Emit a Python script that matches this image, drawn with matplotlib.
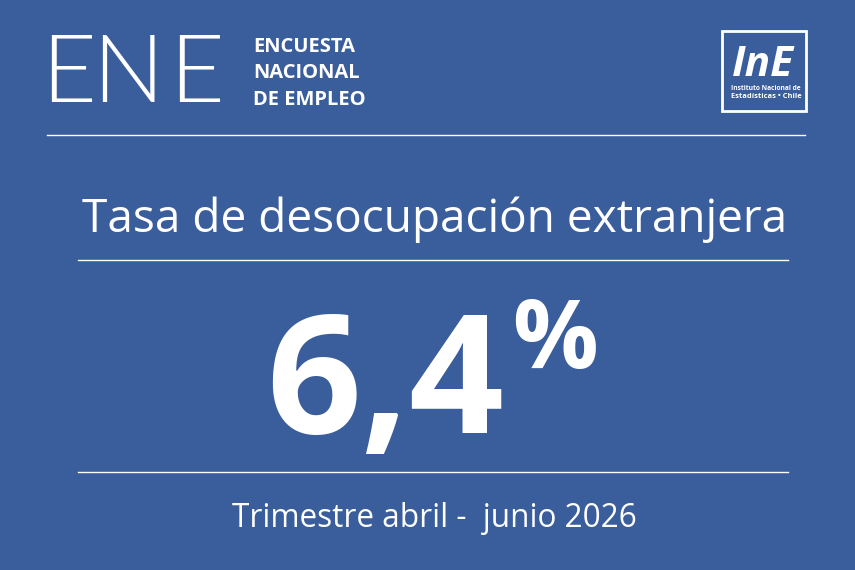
import matplotlib
matplotlib.use("Agg")
import matplotlib.pyplot as plt

# ---- data ----
indicator_title = "Tasa de desocupación extranjera"
rate_value = 6.4
rate_unit = "%"
period_label = "Trimestre abril -  junio 2026"
survey_acronym = ["E", "N", "E"]
survey_name = ["ENCUESTA", "NACIONAL", "DE EMPLEO"]
institute_mark = "InE"
institute_lines = ["Instituto Nacional de", "Estadísticas • Chile"]

BG = "#3A5D9C"
W, H = 855, 570

fig = plt.figure(figsize=(W / 100, H / 100), dpi=100)
fig.patch.set_facecolor(BG)
ax = fig.add_axes([0, 0, 1, 1])
ax.set_xlim(0, W)
ax.set_ylim(H, 0)
ax.set_facecolor(BG)
ax.axis("off")

renderer = fig.canvas.get_renderer()


def fit(t, width):
    """scale fontsize so that rendered text width matches width (px)"""
    for _ in range(3):
        bb = t.get_window_extent(renderer=renderer)
        t.set_fontsize(t.get_fontsize() * width / bb.width)


# ---- header: ENE thin letters ----
for letter, x0 in zip(survey_acronym, [41, 92, 169]):
    ax.text(x0, 102, letter, fontsize=68, color="white", family="Lato",
            fontweight=300, va="baseline", ha="left")

# ---- header: bold words ----
hdr = []
for line, yb in zip(survey_name, [52, 78, 105]):
    hdr.append(ax.text(253, yb, line, fontsize=15, color="white", family="Open Sans",
                       fontweight="bold", va="baseline", ha="left"))
fit(hdr[0], 102)
for t in hdr[1:]:
    t.set_fontsize(hdr[0].get_fontsize())

# ---- logo ----
ax.add_patch(plt.Rectangle((721.5, 30.5), 84, 80, fill=False, ec="white", lw=2))
t = ax.text(763, 76, institute_mark, fontsize=25, color="white", family="Open Sans",
            fontweight="bold", style="italic", va="baseline", ha="center")
fit(t, 62)
for line, yb in zip(institute_lines, [89.5, 97.5]):
    t = ax.text(731, yb, line, fontsize=6.5, color="white", family="Open Sans",
                fontweight="bold", va="baseline", ha="left")
    fit(t, 69)

# ---- separator lines ----
ax.plot([47, 805], [135, 135], color="white", lw=1)
ax.plot([78, 788], [260, 260], color="white", lw=1)
ax.plot([78, 788], [472, 472], color="white", lw=1)

# ---- title ----
t = ax.text(434.5, 232, indicator_title, fontsize=37, color="white",
            family="Open Sans", va="baseline", ha="center")
fit(t, 705)

# ---- big number ----
value_text = f"{rate_value:.1f}".replace(".", ",")
t = ax.text(266, 433, value_text, fontsize=134, color="white",
            family="Open Sans", fontweight="bold", va="baseline", ha="left")
fit(t, 238)
t = ax.text(512, 368, rate_unit, fontsize=82, color="white",
            family="Open Sans", fontweight="bold", va="baseline", ha="left")
fit(t, 86)

# ---- period ----
t = ax.text(434.5, 527, period_label, fontsize=27, color="white",
            family="Open Sans", va="baseline", ha="center")
fit(t, 405)

fig.savefig("out.png", dpi=100, facecolor=BG)
